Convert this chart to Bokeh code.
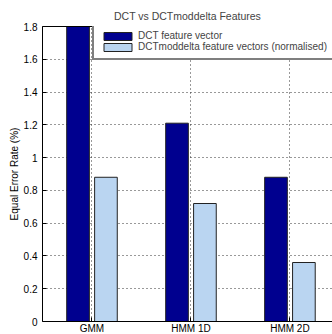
from bokeh.plotting import figure
from bokeh.models import (Range1d, FixedTicker, NumeralTickFormatter, LinearAxis,
                          Legend, LegendItem, ColumnDataSource)
from bokeh.embed import file_html
from bokeh.resources import INLINE

categories = ["GMM", "HMM 1D", "HMM 2D"]
dct = [1.86, 1.21, 0.88]
dctmod = [0.88, 0.72, 0.36]
series_names = ["DCT feature vector", "DCTmoddelta feature vectors (normalised)"]
y_ticks = [0, 0.2, 0.4, 0.6, 0.8, 1.0, 1.2, 1.4, 1.6, 1.8]

FONT = "Liberation Sans"
DARK = "#00008F"
LIGHT = "#BAD5F1"

pos = [i + 1 for i in range(len(categories))]
off = 0.141
bw = 0.229

src = ColumnDataSource(dict(
    x1=[x - off for x in pos], x2=[x + off for x in pos], dct=dct, dctmod=dctmod))

FW, FH = 290, 295
p = figure(frame_width=FW, frame_height=FH, output_backend="svg", toolbar_location=None,
           x_range=Range1d(0.5, 3.43), y_range=Range1d(0, 1.8),
           min_border_left=42, min_border_right=0, min_border_top=26, min_border_bottom=13,
           title="DCT vs DCTmoddelta Features")
p.title.align = "center"
p.title.text_font = FONT
p.title.text_font_size = "10.5px"
p.title.text_font_style = "normal"
p.title.standoff = 10

p.outline_line_color = None
p.background_fill_color = "white"
p.border_fill_color = "white"

r1 = p.vbar(x="x1", top="dct", width=bw, bottom=0, source=src,
            fill_color=DARK, line_color="#222222", line_width=1)
r2 = p.vbar(x="x2", top="dctmod", width=bw, bottom=0, source=src,
            fill_color=LIGHT, line_color="#222222", line_width=1)

# axes
xa = p.xaxis[0]
xa.ticker = FixedTicker(ticks=pos)
xa.major_label_overrides = {pos[i]: categories[i] for i in range(len(categories))}
ya = p.yaxis[0]
ya.ticker = FixedTicker(ticks=y_ticks)
ya.formatter = NumeralTickFormatter(format="0.[0]")
ya.axis_label = "Equal Error Rate (%)"
for ax in (xa, ya):
    ax.major_label_text_font = FONT
    ax.major_label_text_font_size = "10px"
    ax.major_label_text_color = "black"
    ax.axis_line_color = "black"
    ax.axis_line_width = 1
    ax.major_tick_in = 4
    ax.major_tick_out = 0
    ax.major_tick_line_color = "black"
    ax.minor_tick_line_color = None
ya.major_label_standoff = 5
ya.axis_label_text_font = FONT
ya.axis_label_text_font_size = "10px"
ya.axis_label_text_font_style = "normal"
ya.axis_label_text_color = "black"
ya.axis_label_standoff = 1
xa.major_label_standoff = 1

top = LinearAxis(ticker=FixedTicker(ticks=[]), major_label_text_font_size="0px",
                 major_tick_line_color=None, minor_tick_line_color=None,
                 axis_line_color="black", major_label_standoff=0)
p.add_layout(top, "above")

for g in (p.xgrid[0], p.ygrid[0]):
    g.grid_line_color = "#333333"
    g.grid_line_dash = "1 3"
    g.grid_line_width = 1
p.xgrid[0].ticker = FixedTicker(ticks=pos)
p.ygrid[0].ticker = FixedTicker(ticks=y_ticks)

LH = 32
legend = Legend(items=[LegendItem(label=series_names[0], renderers=[r1]),
                       LegendItem(label=series_names[1], renderers=[r2])],
                location=(50, FH - LH - 2),
                label_text_font=FONT, label_text_font_size="10px",
                glyph_width=35, glyph_height=10, label_height=10,
                spacing=0, padding=6, label_standoff=3,
                border_line_color="black", border_line_width=2,
                background_fill_color="white", background_fill_alpha=1)
p.add_layout(legend)

open("out.html", "w").write(file_html(p, INLINE))
